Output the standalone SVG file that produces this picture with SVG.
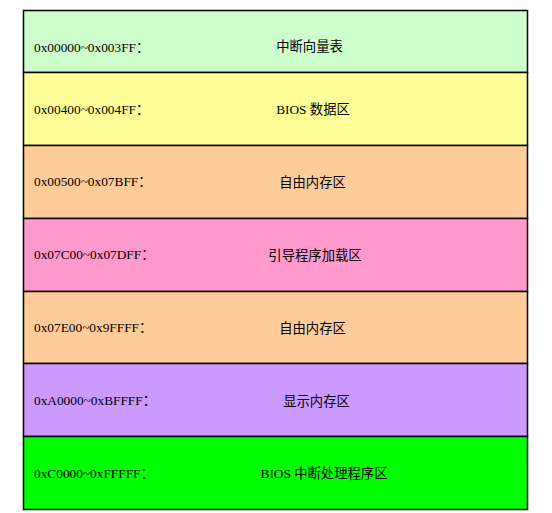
<svg xmlns="http://www.w3.org/2000/svg" width="552" height="513" viewBox="0 0 552 513">
<style>
rect.r { stroke: #000; stroke-width: 1.5; }
text { font-family: "Liberation Serif", "Noto Sans CJK SC", serif; font-size: 13.33px; fill: #000; }
text.addr { text-anchor: start; }
text.name { text-anchor: middle; }
</style>
<rect width="552" height="513" fill="#fff"/>
<g id="row1"><rect class="r" x="23.5" y="10.5" width="504" height="62" fill="#CCFFCC"/><text class="addr" x="34" y="51.5">0x00000~0x003FF：</text><text class="name" x="309.5" y="51">中断向量表</text></g>
<g id="row2"><rect class="r" x="23.5" y="72.5" width="504" height="73" fill="#FFFF99"/><text class="addr" x="34" y="113.5">0x00400~0x004FF：</text><text class="name" x="313" y="114">BIOS 数据区</text></g>
<g id="row3"><rect class="r" x="23.5" y="145.5" width="504" height="73" fill="#FFCC99"/><text class="addr" x="34" y="186">0x00500~0x07BFF：</text><text class="name" x="312.5" y="187">自由内存区</text></g>
<g id="row4"><rect class="r" x="23.5" y="218.5" width="504" height="73" fill="#FF99CC"/><text class="addr" x="34" y="259">0x07C00~0x07DFF：</text><text class="name" x="315" y="260">引导程序加载区</text></g>
<g id="row5"><rect class="r" x="23.5" y="291.5" width="504" height="72" fill="#FFCC99"/><text class="addr" x="34" y="332">0x07E00~0x9FFFF：</text><text class="name" x="312.5" y="333">自由内存区</text></g>
<g id="row6"><rect class="r" x="23.5" y="363.5" width="504" height="73" fill="#CC99FF"/><text class="addr" x="34" y="405">0xA0000~0xBFFFF：</text><text class="name" x="316.5" y="406">显示内存区</text></g>
<g id="row7"><rect class="r" x="23.5" y="436.5" width="504" height="73" fill="#00FF00"/><text class="addr" x="34" y="477.5">0xC0000~0xFFFFF：</text><text class="name" x="324" y="477.5">BIOS 中断处理程序区</text></g>
<g id="connectors"/>
</svg>
